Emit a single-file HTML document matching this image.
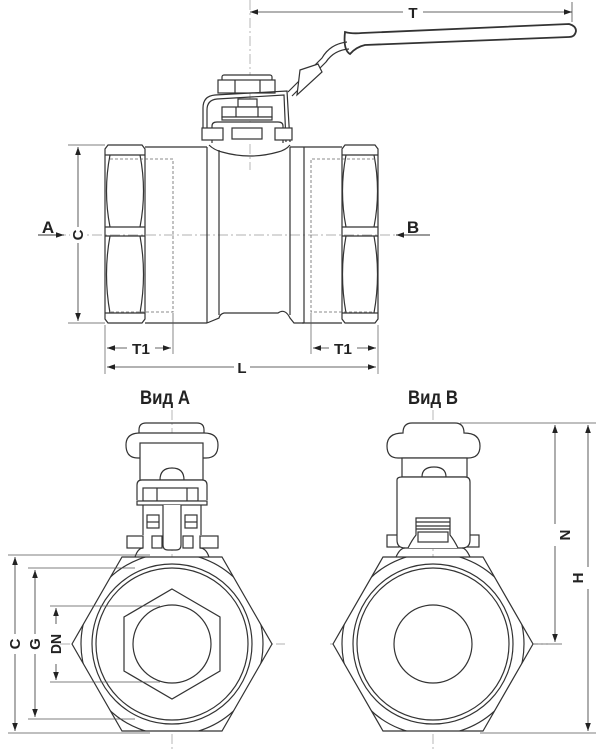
<!DOCTYPE html>
<html><head><meta charset="utf-8"><style>
html,body{margin:0;padding:0;background:#fff}
svg{display:block}
text{font-family:"Liberation Sans Narrow","Liberation Sans",sans-serif;font-weight:bold;fill:#222}
</style></head><body>
<svg width="607" height="752" viewBox="0 0 607 752" xmlns="http://www.w3.org/2000/svg">
<defs>
<marker id="ar" viewBox="0 0 10 10" refX="10" refY="5" markerWidth="8" markerHeight="8" orient="auto-start-reverse" markerUnits="userSpaceOnUse"><path d="M0,1.5 L10,5 L0,8.5 z" fill="#222"/></marker>
<clipPath id="hexA"><polygon points="72,644 122,557 222,557 272,644 222,731 122,731"/></clipPath>
<clipPath id="hexB"><polygon points="333,644 383,557 483,557 533,644 483,731 383,731"/></clipPath>
</defs>
<g fill="none" stroke="#333" stroke-width="1.2">
<!-- ===== TOP VIEW ===== -->
<line x1="250" y1="0" x2="250" y2="170" stroke="#999" stroke-width="0.7" stroke-dasharray="10,3,2,3"/>
<line x1="38" y1="235" x2="430" y2="235" stroke="#999" stroke-width="0.7" stroke-dasharray="10,3,2,3"/>
<line x1="250" y1="12" x2="572" y2="12" stroke-width="0.8" marker-start="url(#ar)" marker-end="url(#ar)"/>
<line x1="572" y1="2" x2="572" y2="22" stroke-width="0.7"/>
<!-- handle -->
<path d="M345,32 Q352,34 362,33 L569,24 Q576,26 576,31 Q575,37 569,37 L365,45 Q356,47 350,54 Q343,50 345,32 z" fill="#fff" stroke-width="1.8"/>
<path d="M347,42 Q330,44 322,58 L288,92" stroke-width="1.2"/>
<path d="M349,49 Q334,50 326,62 L292,96" stroke-width="1.2"/>
<path d="M300,70 L318,64 L322,72 L297,95 z" fill="#fff"/>
<!-- top nut -->
<rect x="222" y="75" width="50" height="6" rx="2" fill="#fff"/>
<rect x="218" y="80" width="57" height="13" fill="#fff"/>
<line x1="235" y1="80" x2="235" y2="93"/><line x1="260" y1="80" x2="260" y2="93"/>
<!-- bracket -->
<path d="M203,140 L203,108 Q203,96 215,95 L287,91 L290,142"/>
<path d="M207,140 L207,110 Q207,100 217,99 L284,95 L286,142"/>
<rect x="238" y="99" width="19" height="8" fill="#fff"/>
<rect x="222" y="107" width="50" height="10" fill="#fff"/>
<line x1="236" y1="107" x2="236" y2="117"/><line x1="258" y1="107" x2="258" y2="117"/>
<rect x="222" y="117" width="50" height="3" fill="#fff"/>
<!-- neck -->
<path d="M212,143 L212,126 Q212,122 217,122 L278,122 Q283,122 283,126 L283,143" fill="#fff"/>
<rect x="202" y="128" width="21" height="12" fill="#fff"/>
<rect x="275" y="128" width="17" height="12" fill="#fff"/>
<rect x="232" y="128" width="30" height="11" fill="#fff"/>
<path d="M209,145 Q214,150 222,152 Q250,160 278,152 Q286,150 290,145"/>
<!-- left hex -->
<path d="M108,145 L142,145 L145,149 L145,319 L142,323 L108,323 L105,319 L105,149 z"/>
<line x1="105" y1="155" x2="145" y2="155"/><line x1="105" y1="313" x2="145" y2="313"/>
<line x1="105" y1="227" x2="145" y2="227"/><line x1="105" y1="236" x2="145" y2="236"/>
<path d="M110,155 Q103,191 110,227 M140,155 Q147,191 140,227 M110,236 Q103,274 110,313 M140,236 Q147,274 140,313"/>
<!-- right hex -->
<path d="M345,145 L375,145 L378,149 L378,319 L375,323 L345,323 L342,319 L342,149 z"/>
<line x1="342" y1="155" x2="378" y2="155"/><line x1="342" y1="313" x2="378" y2="313"/>
<line x1="342" y1="227" x2="378" y2="227"/><line x1="342" y1="236" x2="378" y2="236"/>
<path d="M346,155 Q339,191 346,227 M374,155 Q381,191 374,227 M346,236 Q339,274 346,313 M374,236 Q381,274 374,313"/>
<!-- pipes & body -->
<line x1="145" y1="147" x2="207" y2="147"/><line x1="145" y1="323" x2="207" y2="323"/>
<line x1="290" y1="147" x2="342" y2="147"/><line x1="302" y1="323" x2="342" y2="323"/>
<path d="M207,147 L207,323 M219,150 L219,315 M290,147 L290,315 M304,147 L304,323"/>
<path d="M207,323 L219,318 Q220,314 224,313 L278,313 Q285,308 290,318 L294,323 L304,323"/>
<g stroke="#666" stroke-width="0.8" stroke-dasharray="3,2">
<path d="M110,159 L173,159 L173,312 L110,312"/>
<path d="M375,159 L311,159 L311,312 L375,312"/>
</g>
<g stroke-width="0.7" stroke="#555">
<line x1="68" y1="145" x2="105" y2="145"/><line x1="68" y1="323" x2="105" y2="323"/>
<line x1="105" y1="325" x2="105" y2="374"/><line x1="378" y1="325" x2="378" y2="374"/>
<line x1="173" y1="313" x2="173" y2="354"/><line x1="311" y1="313" x2="311" y2="354"/>
</g>
<line x1="78" y1="147" x2="78" y2="321" stroke-width="0.8" marker-start="url(#ar)" marker-end="url(#ar)"/>
<line x1="107" y1="348" x2="171" y2="348" stroke-width="0.8" marker-start="url(#ar)" marker-end="url(#ar)"/>
<line x1="313" y1="348" x2="376" y2="348" stroke-width="0.8" marker-start="url(#ar)" marker-end="url(#ar)"/>
<line x1="107" y1="367" x2="376" y2="367" stroke-width="0.8" marker-start="url(#ar)" marker-end="url(#ar)"/>
<line x1="38" y1="235" x2="64" y2="235" stroke-width="1" marker-end="url(#ar)"/>
<line x1="430" y1="235" x2="396" y2="235" stroke-width="1" marker-end="url(#ar)"/>

<!-- ===== VIEW A ===== -->
<line x1="172" y1="410" x2="172" y2="752" stroke="#999" stroke-width="0.7" stroke-dasharray="10,3,2,3"/>
<line x1="60" y1="644" x2="285" y2="644" stroke="#999" stroke-width="0.7" stroke-dasharray="10,3,2,3"/>
<polygon points="72,644 122,557 222,557 272,644 222,731 122,731" fill="#fff"/>
<circle cx="172" cy="644" r="91" clip-path="url(#hexA)"/>
<circle cx="172" cy="644" r="80"/>
<circle cx="172" cy="644" r="76"/>
<polygon points="172,589 220,617 220,671 172,699 124,671 124,617"/>
<circle cx="172" cy="644" r="39"/>
<!-- view A top -->
<path d="M139,443 L139,430 Q139,423 146,423 L197,423 Q204,423 204,430 L204,443"/>
<path d="M140,433 L204,433 Q218,433 218,445 Q218,458 206,458 L138,458 Q126,458 126,445 Q126,433 140,433 z" fill="#fff"/>
<rect x="140" y="443" width="63" height="37" fill="#fff"/>
<path d="M160,480 Q160,468 172,468 Q184,468 184,480"/>
<path d="M137,500 L137,485 Q137,480 142,480 L202,480 Q207,480 207,485 L207,500" fill="#fff"/>
<rect x="143" y="488" width="55" height="13" fill="#fff"/>
<line x1="157" y1="488" x2="157" y2="501"/><line x1="187" y1="488" x2="187" y2="501"/>
<rect x="137" y="501" width="70" height="4" fill="#fff"/>
<path d="M143,505 L143,535 M201,505 L201,535"/>
<rect x="147" y="515" width="12" height="13"/><rect x="185" y="515" width="12" height="13"/>
<line x1="147" y1="522" x2="159" y2="522"/><line x1="185" y1="522" x2="197" y2="522"/>
<path d="M163,505 L163,545 Q163,550 168,550 L176,550 Q181,550 181,545 L181,505" fill="#fff"/>
<rect x="127" y="536" width="16" height="12"/><rect x="200" y="536" width="18" height="12"/>
<rect x="152" y="536" width="10" height="12"/><rect x="183" y="536" width="10" height="12"/>
<path d="M135,557 Q138,548 143,548 M209,557 Q206,548 200,548"/>
<g stroke-width="0.7" stroke="#555">
<line x1="8" y1="555" x2="150" y2="555"/><line x1="8" y1="733" x2="150" y2="733"/>
<line x1="28" y1="568" x2="135" y2="568"/><line x1="28" y1="719" x2="135" y2="719"/>
<line x1="50" y1="606" x2="160" y2="606"/><line x1="50" y1="682" x2="160" y2="682"/>
</g>
<line x1="15" y1="557" x2="15" y2="731" stroke-width="0.8" marker-start="url(#ar)" marker-end="url(#ar)"/>
<line x1="35" y1="570" x2="35" y2="717" stroke-width="0.8" marker-start="url(#ar)" marker-end="url(#ar)"/>
<line x1="56" y1="608" x2="56" y2="624" stroke-width="0.8" marker-start="url(#ar)"/>
<line x1="56" y1="664" x2="56" y2="680" stroke-width="0.8" marker-end="url(#ar)"/>

<!-- ===== VIEW B ===== -->
<line x1="433" y1="410" x2="433" y2="752" stroke="#999" stroke-width="0.7" stroke-dasharray="10,3,2,3"/>
<line x1="330" y1="644" x2="548" y2="644" stroke="#999" stroke-width="0.7" stroke-dasharray="10,3,2,3"/>
<polygon points="333,644 383,557 483,557 533,644 483,731 383,731" fill="#fff"/>
<circle cx="433" cy="644" r="91" clip-path="url(#hexB)"/>
<circle cx="433" cy="644" r="80"/>
<circle cx="433" cy="644" r="76"/>
<circle cx="433" cy="644" r="39"/>
<path d="M403,433 Q403,423 412,423 L455,423 Q464,423 464,433 Q480,433 480,446 Q480,458 468,458 L398,458 Q387,458 387,446 Q387,433 403,433 z" fill="#fff"/>
<rect x="402" y="458" width="65" height="19" fill="#fff"/>
<path d="M422,477 Q422,467 434,467 Q446,467 446,477"/>
<rect x="387" y="535" width="12" height="12"/><rect x="467" y="535" width="12" height="12"/>
<path d="M397,480 Q397,477 402,477 L465,477 Q470,477 470,482 L470,540 Q470,548 462,548 L405,548 Q397,548 397,540 z" fill="#fff"/>
<path d="M408,548 Q412,540 416,535 L416,518 L450,518 L450,535 Q454,540 458,548" fill="#fff"/>
<line x1="416" y1="522" x2="450" y2="522"/><line x1="416" y1="526" x2="450" y2="526"/><line x1="416" y1="529" x2="450" y2="529"/>
<rect x="418" y="532" width="30" height="10"/>
<path d="M396,557 Q400,548 405,548 M470,557 Q466,548 462,548"/>
<g stroke-width="0.7" stroke="#555">
<line x1="460" y1="423" x2="596" y2="423"/>
<line x1="533" y1="644" x2="562" y2="644"/>
<line x1="480" y1="733" x2="596" y2="733"/>
</g>
<line x1="555" y1="425" x2="555" y2="642" stroke-width="0.8" marker-start="url(#ar)" marker-end="url(#ar)"/>
<line x1="588" y1="425" x2="588" y2="731" stroke-width="0.8" marker-start="url(#ar)" marker-end="url(#ar)"/>
</g>
<g>
<rect x="403" y="5" width="20" height="14" fill="#fff"/>
<text x="413" y="18" font-size="15" text-anchor="middle">T</text>
<text x="48" y="233" font-size="17" text-anchor="middle">A</text>
<text x="413" y="233" font-size="17" text-anchor="middle">B</text>
<rect x="70" y="227" width="16" height="16" fill="#fff"/>
<text x="0" y="0" font-size="15" text-anchor="middle" transform="translate(83,235) rotate(-90)">C</text>
<rect x="127" y="340" width="28" height="16" fill="#fff"/>
<text x="141" y="354" font-size="15" text-anchor="middle" textLength="18" lengthAdjust="spacingAndGlyphs">T1</text>
<rect x="329" y="340" width="28" height="16" fill="#fff"/>
<text x="343" y="354" font-size="15" text-anchor="middle" textLength="18" lengthAdjust="spacingAndGlyphs">T1</text>
<rect x="234" y="359" width="16" height="16" fill="#fff"/>
<text x="242" y="373" font-size="15" text-anchor="middle">L</text>
<text x="165" y="404" font-size="19" text-anchor="middle" textLength="50" lengthAdjust="spacingAndGlyphs">Вид A</text>
<text x="433" y="404" font-size="19" text-anchor="middle" textLength="50" lengthAdjust="spacingAndGlyphs">Вид B</text>
<rect x="7" y="634" width="16" height="20" fill="#fff"/>
<text x="0" y="0" font-size="15" text-anchor="middle" transform="translate(20,644) rotate(-90)">C</text>
<rect x="27" y="634" width="16" height="20" fill="#fff"/>
<text x="0" y="0" font-size="15" text-anchor="middle" transform="translate(40,644) rotate(-90)">G</text>
<text x="0" y="0" font-size="15" text-anchor="middle" transform="translate(61,644) rotate(-90)" textLength="20" lengthAdjust="spacingAndGlyphs">DN</text>
<rect x="547" y="524" width="16" height="22" fill="#fff"/>
<text x="0" y="0" font-size="15" text-anchor="middle" transform="translate(560,535) rotate(90)">N</text>
<rect x="580" y="567" width="16" height="22" fill="#fff"/>
<text x="0" y="0" font-size="15" text-anchor="middle" transform="translate(583,578) rotate(-90)">H</text>
</g>
</svg>
</body></html>
